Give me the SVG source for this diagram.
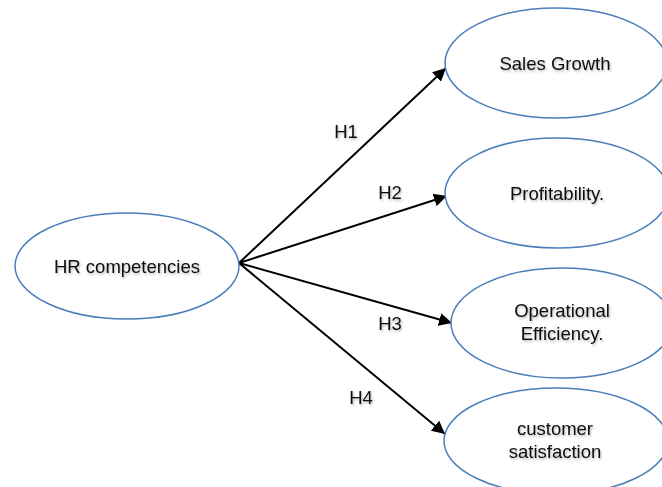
<svg xmlns="http://www.w3.org/2000/svg" width="662" height="487" viewBox="0 0 662 487">
  <style>
    .node ellipse { fill: #ffffff; stroke: #4a7ebb; stroke-width: 1.5; }
    .lbl { font-family: "Liberation Sans", Arial, sans-serif; font-size: 18.5px; fill: #111111; text-anchor: middle; filter: url(#soft); }
    .edge { stroke: #000000; stroke-width: 2; fill: none; marker-end: url(#arrow); }
  </style>
  <defs>
    <marker id="arrow" viewBox="0 0 10 10" refX="10" refY="5" markerWidth="6.5" markerHeight="6.5" markerUnits="strokeWidth" orient="auto">
      <path d="M0,0 L10,5 L0,10 z" fill="#000000"/>
    </marker>
    <filter id="soft" x="-10%" y="-30%" width="130%" height="170%">
      <feDropShadow dx="1" dy="1.5" stdDeviation="1" flood-color="#000000" flood-opacity="0.3"/>
    </filter>
  </defs>
  <rect width="662" height="487" fill="#ffffff"/>

  <g id="connectors">
    <line class="edge" x1="239" y1="263" x2="446" y2="68"/>
    <line class="edge" x1="239" y1="263" x2="447" y2="196"/>
    <line class="edge" x1="239" y1="263" x2="452" y2="323"/>
    <line class="edge" x1="239" y1="263" x2="445" y2="434"/>
    <text class="lbl" x="346" y="138">H1</text>
    <text class="lbl" x="390" y="199">H2</text>
    <text class="lbl" x="390" y="330">H3</text>
    <text class="lbl" x="361" y="404">H4</text>
  </g>

  <g id="hr-competencies" class="node">
    <ellipse cx="127" cy="266" rx="112" ry="53"/>
    <text class="lbl" x="127" y="273">HR competencies</text>
  </g>

  <g id="sales-growth" class="node">
    <ellipse cx="556" cy="63" rx="111" ry="55"/>
    <text class="lbl" x="555" y="70">Sales Growth</text>
  </g>

  <g id="profitability" class="node">
    <ellipse cx="557" cy="193" rx="112" ry="55"/>
    <text class="lbl" x="557" y="200">Profitability.</text>
  </g>

  <g id="operational-efficiency" class="node">
    <ellipse cx="562" cy="323" rx="111" ry="55"/>
    <text class="lbl" x="562" y="317">Operational</text>
    <text class="lbl" x="562" y="340">Efficiency.</text>
  </g>

  <g id="customer-satisfaction" class="node">
    <ellipse cx="556" cy="441" rx="112" ry="53"/>
    <text class="lbl" x="555" y="435">customer</text>
    <text class="lbl" x="555" y="458">satisfaction</text>
  </g>
</svg>
